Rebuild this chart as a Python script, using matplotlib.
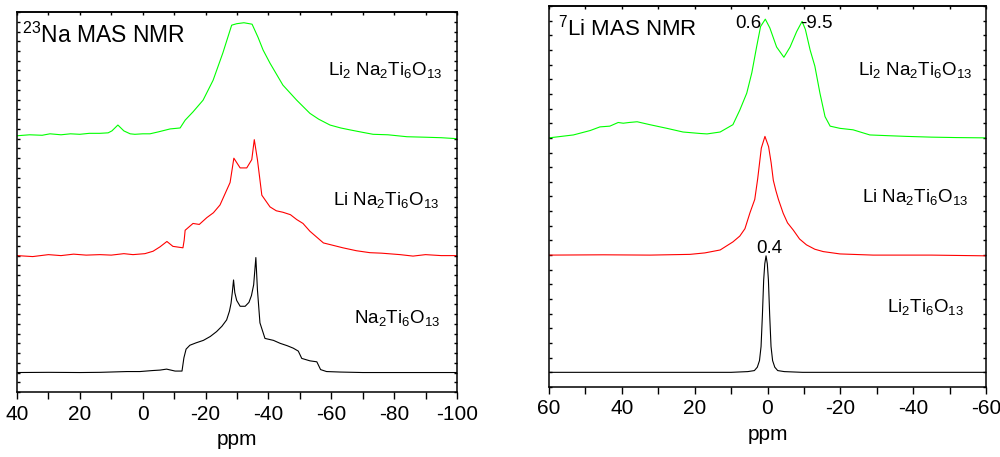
import matplotlib
matplotlib.use('Agg')
import matplotlib.pyplot as plt
from matplotlib.ticker import MultipleLocator

plt.rcParams['font.family'] = ['Liberation Sans', 'DejaVu Sans']
plt.rcParams['mathtext.fontset'] = 'custom'
plt.rcParams['mathtext.rm'] = 'Liberation Sans'
plt.rcParams['mathtext.default'] = 'regular'
plt.rcParams['axes.unicode_minus'] = False

# 23Na MAS NMR spectra (ppm, intensity above each baseline)
na_ppm_green = [40, 36, 32, 29.5, 26, 23, 20, 17, 13.6, 11, 9.8, 7.9, 6.0, 4, 2.5, 0, -2.3, -5, -8.7, -11.9,
                -13.5, -16, -19.2, -22.4, -25.5, -28.3, -29.9, -32.2, -34.8, -36.7, -38.3, -40.5, -44.6, -49,
                -53.2, -56, -59.6, -63, -66, -70, -73.3, -78, -84.1, -90, -95, -100]
na_int_green = [0, 0.1, 0.05, 0.2, 0.1, 0.2, 0.15, 0.25, 0.25, 0.3, 0.5, 1.1, 0.5, 0.2, 0.15, 0.2, 0.2, 0.4, 0.7, 0.8,
                1.6, 2.45, 3.65, 5.7, 8.5, 11.35, 11.5, 11.6, 11.45, 10.1, 8.8, 7.45, 5.2, 3.65,
                2.3, 1.7, 1.1, 0.8, 0.6, 0.35, 0.15, 0.1, -0.1, -0.15, -0.2, -0.3]

na_ppm_red = [40, 35, 30, 26, 22, 18, 13.6, 10, 6, 3.1, -0.7, -3.3, -5.5, -7.7, -9.6, -12.8, -13.2, -13.5, -16, -18,
              -20.4, -22.5, -24.6, -27.8, -29, -30, -31, -33.1, -34.7, -35.5, -36.5, -37.9, -40.5, -42.5, -44.6,
              -47, -49, -51, -53.2, -57.5, -60, -63.7, -68, -72.3, -76, -81.9, -86, -90, -95, -100]
na_int_red = [0, -0.1, 0.1, 0.0, 0.15, 0.05, 0.1, 0.05, 0.2, 0.1, 0.2, 0.45, 0.9, 1.45, 0.95, 0.8, 1.6, 2.6, 3.3, 3.2,
              3.9, 4.4, 5.2, 7.5, 10.0, 9.5, 9.0, 9.0, 9.85, 11.9, 9.85, 6.2, 5.0, 4.6, 4.45,
              4.2, 3.7, 3.3, 2.5, 1.3, 1.1, 0.8, 0.5, 0.3, 0.25, 0.1, -0.05, 0.1, 0.0, 0.0]

na_ppm_black = [40, 30, 20, 13.6, 5, 0.9, -3, -5.5, -7.6, -10.3, -12.5, -13.1, -13.8, -15, -17, -19.3, -21.5, -23.5,
                -25.2, -26.7, -27.6, -28.1, -28.5, -28.9, -29.3, -29.9, -31, -32.6, -33.8, -34.6, -35.3, -36.0,
                -36.5, -37.3, -38.9, -41.6, -43.7, -46, -47.9, -49.5, -50.6, -53.2, -55.4, -56.6, -58.5, -62.8,
                -70, -80, -90, -100]
na_int_black = [0, 0.02, 0.0, 0.02, 0.1, 0.1, 0.2, 0.25, 0.35, 0.15, 0.15, 1.5, 2.4, 2.8, 3.05, 3.3, 3.7, 4.2,
                4.75, 5.4, 6.3, 7.1, 8.2, 9.5, 8.2, 7.4, 6.8, 6.8, 7.2, 7.9, 9.0, 11.8,
                8.5, 5.1, 3.5, 3.3, 3.0, 2.75, 2.5, 2.2, 1.45, 1.2, 1.1, 0.3, 0.1, 0.05,
                0, 0, 0, 0]

# 7Li MAS NMR spectra
li_ppm_green = [60, 53.3, 48.7, 46, 43.3, 41, 39.6, 38, 35.8, 32.3, 27.6, 23.2, 18.5, 16.6, 13, 9.5, 7.6, 5.7, 4.3,
                3.0, 1.9, 0.6, -0.65, -2.5, -4.5, -6.2, -8, -9.5, -10.4, -11.7, -13, -14.4, -15.8, -17.2,
                -19.9, -23.5, -28.1, -33, -38.3, -45, -52, -60]
li_int_green = [0, 0.2, 0.5, 0.75, 0.8, 1.05, 1.0, 1.05, 1.1, 0.9, 0.65, 0.4, 0.3, 0.27, 0.4, 0.9, 1.9, 3.05, 4.45,
                6.2, 7.6, 8.1, 7.5, 6.2, 5.5, 6.2, 7.25, 7.95, 7.4, 6.0, 4.9, 3.05, 1.45, 0.8,
                0.65, 0.55, 0.2, 0.15, 0.1, 0.05, 0.02, 0]

li_ppm_red = [60, 45, 32.3, 21.3, 17.2, 13, 9.5, 7.6, 6.2, 4.8, 3.5, 2.7, 1.7, 0.7, -0.3, -1.0, -1.6, -2.3, -3.0,
              -4.3, -5.5, -7.1, -8.8, -10.7, -13, -15.3, -19.9, -29, -45, -60]
li_int_red = [0, 0.02, 0, 0.05, 0.15, 0.35, 0.9, 1.3, 1.8, 2.9, 3.8, 5.2, 7.3, 8.1, 7.4, 6.3, 5.1, 4.4, 3.8,
              2.86, 2.2, 1.7, 1.1, 0.7, 0.4, 0.24, 0.08, 0.0, 0.0, -0.05]

li_ppm_black = [60, 40, 20, 10, 5.4, 3.6, 2.8, 2.2, 1.77, 1.4, 1.05, 0.75, 0.4, 0.05, -0.25, -0.6, -0.97, -1.4,
                -2.0, -2.8, -4.6, -9.6, -20, -40, -60]
li_int_black = [0, 0, 0, 0, 0.05, 0.12, 0.35, 0.8, 1.76, 3.9, 6.3, 7.4, 7.95, 7.4, 6.3, 3.9, 1.76, 0.8,
                0.35, 0.12, 0.05, 0, 0, 0, 0]

na_offsets = [26.3, 14.0, 2.0]
li_offsets = [17.0, 9.0, 1.0]
na_labels = [r'Li$_2$ Na$_2$Ti$_6$O$_{13}$', r'Li Na$_2$Ti$_6$O$_{13}$', r'Na$_2$Ti$_6$O$_{13}$']
li_labels = [r'Li$_2$ Na$_2$Ti$_6$O$_{13}$', r'Li Na$_2$Ti$_6$O$_{13}$', r'Li$_2$Ti$_6$O$_{13}$']
li_peaks = [0.6, -9.5, 0.4]
colors = ['#00ff00', '#ff0000', 'black']

fig = plt.figure(figsize=(10, 4.57), dpi=100)
ax1 = fig.add_axes([0.017, 0.1422, 0.44, 0.8315])
ax2 = fig.add_axes([0.549, 0.1532, 0.437, 0.8337])


def style(ax, xmax, xmin, ytop):
    ax.set_xlim(xmax, xmin)
    ax.set_ylim(0, ytop)
    ax.xaxis.set_major_locator(MultipleLocator(20))
    ax.xaxis.set_minor_locator(MultipleLocator(10))
    ax.yaxis.set_major_locator(MultipleLocator(1))
    ax.tick_params(axis='x', which='both', direction='out', length=5, width=1, pad=4, labelsize=15)
    ax.tick_params(axis='y', which='both', direction='in', left=True, right=True, length=2.5, width=1,
                   labelleft=False)
    top = ax.secondary_xaxis('top')
    top.xaxis.set_major_locator(MultipleLocator(10))
    top.tick_params(direction='in', length=2.5, width=1, labeltop=False)
    top.spines['top'].set_linewidth(1.1)
    for s in ax.spines.values():
        s.set_linewidth(1.1)
    ax.set_xlabel('ppm', fontsize=15, labelpad=5)


style(ax1, 40, -100, 39)
style(ax2, 60, -60, 26)

na_data = [(na_ppm_green, na_int_green), (na_ppm_red, na_int_red), (na_ppm_black, na_int_black)]
for (x, y), off, c in zip(na_data, na_offsets, colors):
    ax1.plot(x, [v + off for v in y], color=c, lw=0.8)

li_data = [(li_ppm_green, li_int_green), (li_ppm_red, li_int_red), (li_ppm_black, li_int_black)]
for (x, y), off, c in zip(li_data, li_offsets, colors):
    ax2.plot(x, [v + off for v in y], color=c, lw=0.8)

ax1.text(38.4, 35.8, r'$^{23}$Na MAS NMR', fontsize=16.5, va='baseline')
for lab, xp, yp in zip(na_labels, [-95.2, -94.3, -94.6], [32.5, 19.2, 7.1]):
    ax1.text(xp, yp, lab, fontsize=13.5, ha='right', va='baseline')

ax2.text(57.5, 24.0, r'$^{7}$Li MAS NMR', fontsize=16, va='baseline')
for lab, xp, yp in zip(li_labels, [-56.1, -55.0, -54.0], [21.3, 12.6, 5.1]):
    ax2.text(xp, yp, lab, fontsize=13.5, ha='right', va='baseline')

# peak positions
ax2.text(li_peaks[0] + 1.0, 24.5, '%.1f' % li_peaks[0], fontsize=13.5, ha='right', va='baseline')
ax2.text(li_peaks[1] + 0.6, 24.5, '%.1f' % li_peaks[1], fontsize=13.5, ha='left', va='baseline')
ax2.text(li_peaks[2] - 1.0, 9.15, '%.1f' % li_peaks[2], fontsize=13.5, ha='center', va='baseline')

fig.savefig('out.png', dpi=100)
